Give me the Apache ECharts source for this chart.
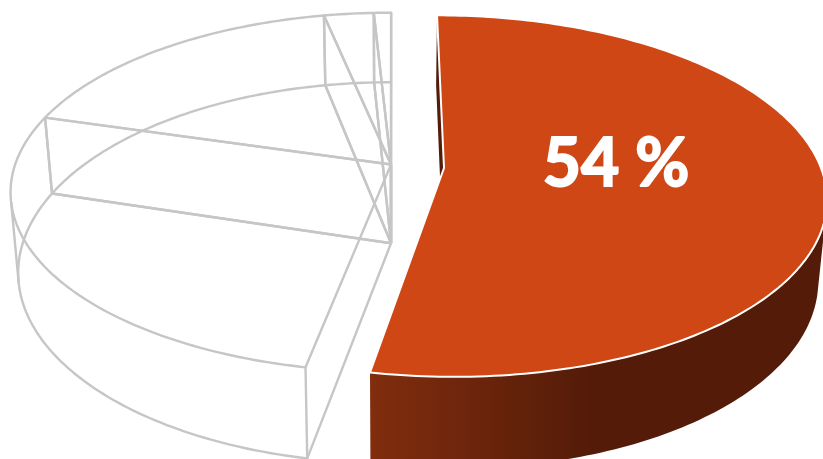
<!DOCTYPE html>
<html>
<head>
<meta charset="utf-8">
<style>html,body{margin:0;padding:0;background:#fff}#chart{width:823px;height:459px}</style>
<script src="https://cdn.jsdelivr.net/npm/echarts@6/dist/echarts.min.js"></script>
</head>
<body>
<div id="chart"></div>
<script>
// Data
var sliceNames = ['Share', 'Rest A', 'Rest B', 'Rest C', 'Rest D'];
var sliceShares = [53, 26.5, 17.2, 2.45, 0.85];
var highlightLabel = '54 %';

// Styles
var FACE_COLOR = '#d04716';
var WALL_DARK = '#531b08';
var WALL_LIGHT = '#812d0e';
var GHOST_COLOR = '#c6c6c6';

// Perspective model of the 3D disc
var VANISH_X = 392, DEPTH = 6.44, RADIUS = 377;
var TOP_Y0 = -968, TOP_A = 1136, BOTTOM_Y0 = -958, BOTTOM_A = 1205, BOTTOM_KX = 0.98;
var GHOST_SILHOUETTE_ANGLE = 258, FACE_SILHOUETTE_ANGLE = 104;
var GHOST_START_SHIFT = 0.3;

function project(deg, radial, off, bottom) {
  var t = deg * Math.PI / 180;
  var d = -Math.cos(t) * radial + off.d;
  var s = DEPTH / (DEPTH - d);
  var X = Math.sin(t) * radial * RADIUS + off.x;
  return bottom
    ? [VANISH_X + X * s * BOTTOM_KX, BOTTOM_Y0 + BOTTOM_A * s]
    : [VANISH_X + X * s, TOP_Y0 + TOP_A * s];
}
function arc(a, b, off, bottom) {
  var pts = [], n = Math.max(2, Math.ceil(Math.abs(b - a)));
  for (var i = 0; i <= n; i++) pts.push(project(a + (b - a) * i / n, 1, off, bottom));
  return pts;
}

var total = sliceShares.reduce(function (a, b) { return a + b; }, 0);
var cum = 0;
var sliceData = sliceShares.map(function (v, i) {
  var start = cum / total * 360;
  cum += v;
  return { name: sliceNames[i], value: [start, cum / total * 360] };
});

function renderGhost(params, api) {
  var a = api.value(0), b = api.value(1);
  if (params.dataIndex === 0) a += GHOST_START_SHIFT;
  var off = { x: -1, d: -0.02 };
  var apexT = project(0, 0, off, false), apexB = project(0, 0, off, true);
  var style = { fill: null, stroke: GHOST_COLOR, lineWidth: 2.4, lineJoin: 'round' };
  function line(points) { return { type: 'polyline', shape: { points: points }, style: style }; }
  var top = arc(a, b, off, false), bot = arc(a, b, off, true);
  var children = [
    line([apexT].concat(top, [apexT])),
    line([apexB].concat(bot, [apexB])),
    line([apexT, apexB]),
    line([top[0], bot[0]]),
    line([top[top.length - 1], bot[bot.length - 1]])
  ];
  if (a < GHOST_SILHOUETTE_ANGLE && b > GHOST_SILHOUETTE_ANGLE) {
    children.push(line([project(GHOST_SILHOUETTE_ANGLE, 1, off, false), project(GHOST_SILHOUETTE_ANGLE, 1, off, true)]));
  }
  return { type: 'group', children: children };
}

function renderHighlight(params, api) {
  var a = api.value(0), b = api.value(1);
  var off = { x: 52, d: 0 };
  var apexT = project(0, 0, off, false), apexB = project(0, 0, off, true);
  var top = arc(a, b, off, false), bot = arc(a, b, off, true);
  var outerTop = arc(FACE_SILHOUETTE_ANGLE, b, off, false), outerBot = arc(FACE_SILHOUETTE_ANGLE, b, off, true);
  var wallFill = {
    type: 'linear', x: 370, y: 0, x2: 823, y2: 0, global: true,
    colorStops: [{ offset: 0, color: WALL_LIGHT }, { offset: 0.5, color: WALL_DARK }, { offset: 1, color: WALL_DARK }]
  };
  return {
    type: 'group',
    children: [
      { type: 'polygon', shape: { points: outerTop.concat(outerBot.slice().reverse()) }, style: { fill: wallFill } },
      { type: 'polygon', shape: { points: [top[0], apexT, apexB, bot[0]] }, style: { fill: WALL_DARK } },
      { type: 'polygon', shape: { points: [apexT].concat(top) }, style: { fill: FACE_COLOR, stroke: '#ffffff', lineWidth: 2, lineJoin: 'round' } },
      { type: 'text', style: { text: highlightLabel, x: 616, y: 165, align: 'center', verticalAlign: 'middle',
          fill: '#ffffff', stroke: '#ffffff', lineWidth: 2, font: 'bold 66px Lato, "Open Sans", sans-serif' } }
    ]
  };
}

var chart = echarts.init(document.getElementById('chart'), null, { renderer: 'canvas' });
chart.setOption({
  animation: false,
  backgroundColor: '#ffffff',
  series: [
    { type: 'custom', coordinateSystem: 'none', renderItem: renderGhost, data: sliceData.slice(1), silent: true, clip: false },
    { type: 'custom', coordinateSystem: 'none', renderItem: renderHighlight, data: sliceData.slice(0, 1), silent: true, clip: false }
  ]
});
</script>
</body>
</html>
